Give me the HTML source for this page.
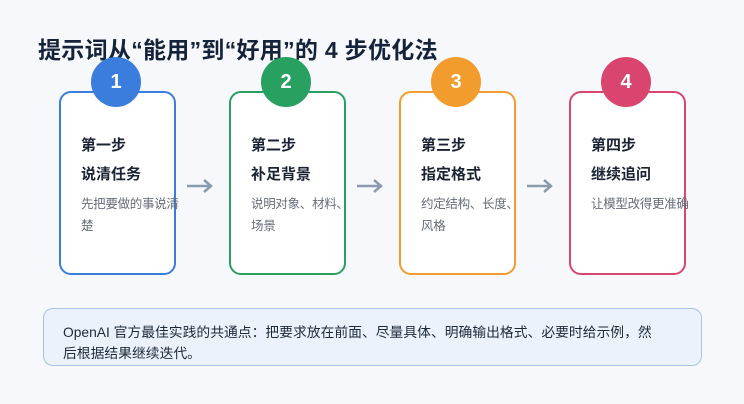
<!DOCTYPE html>
<html><head><meta charset="utf-8"><style>
*{margin:0;padding:0;box-sizing:border-box}
body{width:744px;height:404px;background:#f6f8fb;font-family:"Liberation Sans","Noto Sans CJK SC",sans-serif;position:relative;overflow:hidden;color:#1a2233}
.t{position:absolute;left:38px;top:31px;font-size:23px;font-weight:bold;color:#14233a;letter-spacing:0.3px}
.card{position:absolute;top:91px;width:117px;height:184px;border:2px solid;border-radius:12px;background:#fff}
.c{position:absolute;top:57px;width:50px;height:50px;border-radius:50%;color:#fff;font-size:20px;font-weight:bold;text-align:center;line-height:50px}
.h{position:absolute;left:20px;top:38px;font-size:15px;font-weight:bold;line-height:29px;color:#1a2233}
.d{position:absolute;left:20px;top:100px;width:104px;font-size:12.5px;line-height:22px;color:#666d78;letter-spacing:-0.3px}
.a{position:absolute;top:178px}
.box{position:absolute;left:43px;top:308px;width:659px;height:58px;border:1.5px solid #a8c2e8;border-radius:10px;background:#ebf2fc;font-size:13.8px;line-height:21px;padding:13px 0 0 19px;color:#1e2a3a}
</style></head><body>
<div class="t">提示词从“能用”到“好用”的 4 步优化法</div>
<div class="card" style="left:59px;border-color:#3b7ddd"><div class="h">第一步<br>说清任务</div><div class="d">先把要做的事说清楚</div></div>
<div class="card" style="left:229px;border-color:#27a060"><div class="h">第二步<br>补足背景</div><div class="d">说明对象、材料、场景</div></div>
<div class="card" style="left:399px;border-color:#f39c2e"><div class="h">第三步<br>指定格式</div><div class="d">约定结构、长度、风格</div></div>
<div class="card" style="left:569px;border-color:#d9456e"><div class="h">第四步<br>继续追问</div><div class="d">让模型改得更准确</div></div>
<div class="c" style="left:91px;background:#3b7ddd">1</div>
<div class="c" style="left:261px;background:#27a060">2</div>
<div class="c" style="left:431px;background:#f39c2e">3</div>
<div class="c" style="left:601px;background:#d9456e">4</div>
<svg class="a" style="left:185px" width="30" height="16"><path d="M2 8H26M19 2L26 8L19 14" fill="none" stroke="#8a9bb0" stroke-width="2.5"/></svg>
<svg class="a" style="left:355px" width="30" height="16"><path d="M2 8H26M19 2L26 8L19 14" fill="none" stroke="#8a9bb0" stroke-width="2.5"/></svg>
<svg class="a" style="left:525px" width="30" height="16"><path d="M2 8H26M19 2L26 8L19 14" fill="none" stroke="#8a9bb0" stroke-width="2.5"/></svg>
<div class="box">OpenAI 官方最佳实践的共通点：把要求放在前面、尽量具体、明确输出格式、必要时给示例，然<br>后根据结果继续迭代。</div>
</body></html>
